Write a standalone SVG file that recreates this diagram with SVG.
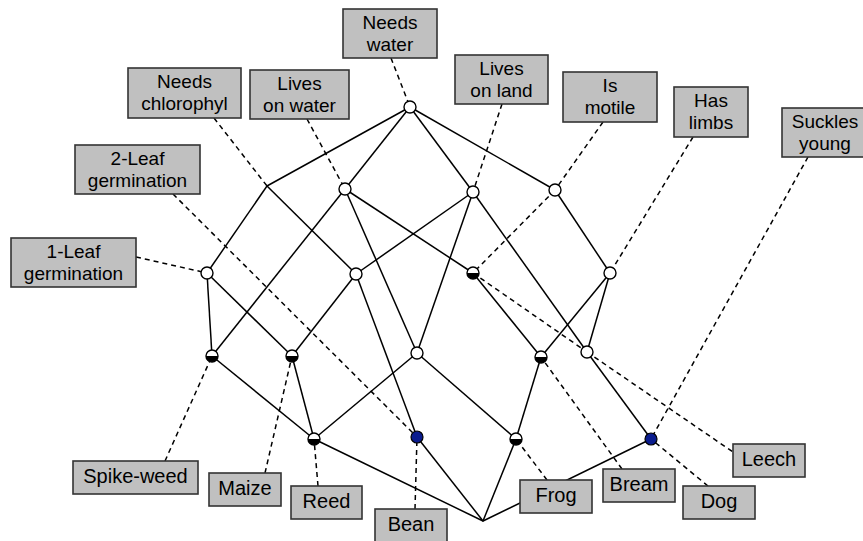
<svg xmlns="http://www.w3.org/2000/svg" xmlns:xlink="http://www.w3.org/1999/xlink" width="863" height="541" viewBox="0 0 863 541">
<style>
.e{stroke:#000;stroke-width:1.5;fill:none}
.d{stroke:#000;stroke-width:1.5;fill:none;stroke-dasharray:5 4}
.box rect{fill:#c0c0c0;stroke:#333;stroke-width:1.6}
.box text{font-family:"Liberation Sans",Arial,sans-serif;font-size:20px;fill:#000;text-anchor:middle}
.box text.two{font-size:19px}
.w{fill:#fff;stroke:#000;stroke-width:1.4}
.b{fill:#0a1c8e;stroke:#000;stroke-width:1.2}
</style>
<defs>
<g id="half"><circle r="6" class="w"/><path d="M-6,0 A6,6 0 0 0 6,0 Z" fill="#000"/></g>
<g id="white"><circle r="6" class="w"/></g>
<g id="blue"><circle r="6" class="b"/></g>
</defs>
<rect width="863" height="541" fill="#fff"/>
<g id="connectors">
<line class="e" x1="410" y1="107" x2="267" y2="186"/>
<line class="e" x1="410" y1="107" x2="345" y2="189"/>
<line class="e" x1="410" y1="107" x2="473" y2="192"/>
<line class="e" x1="410" y1="107" x2="555" y2="190"/>
<line class="e" x1="267" y1="186" x2="207" y2="273"/>
<line class="e" x1="267" y1="186" x2="356" y2="274"/>
<line class="e" x1="345" y1="189" x2="212" y2="356"/>
<line class="e" x1="345" y1="189" x2="473" y2="273"/>
<line class="e" x1="345" y1="189" x2="417" y2="353"/>
<line class="e" x1="473" y1="192" x2="356" y2="274"/>
<line class="e" x1="473" y1="192" x2="417" y2="353"/>
<line class="e" x1="473" y1="192" x2="587" y2="352"/>
<line class="e" x1="555" y1="190" x2="610" y2="273"/>
<line class="e" x1="207" y1="273" x2="212" y2="356"/>
<line class="e" x1="207" y1="273" x2="292" y2="356"/>
<line class="e" x1="356" y1="274" x2="292" y2="356"/>
<line class="e" x1="356" y1="274" x2="417" y2="437"/>
<line class="e" x1="473" y1="273" x2="541" y2="357"/>
<line class="e" x1="610" y1="273" x2="541" y2="357"/>
<line class="e" x1="610" y1="273" x2="587" y2="352"/>
<line class="e" x1="212" y1="356" x2="314" y2="439"/>
<line class="e" x1="292" y1="356" x2="314" y2="439"/>
<line class="e" x1="417" y1="353" x2="314" y2="439"/>
<line class="e" x1="417" y1="353" x2="516" y2="439"/>
<line class="e" x1="541" y1="357" x2="516" y2="439"/>
<line class="e" x1="587" y1="352" x2="651" y2="439"/>
<line class="e" x1="314" y1="439" x2="483" y2="521"/>
<line class="e" x1="417" y1="437" x2="483" y2="521"/>
<line class="e" x1="516" y1="439" x2="483" y2="521"/>
<line class="e" x1="651" y1="439" x2="483" y2="521"/>
<line class="d" x1="391" y1="58" x2="410" y2="107"/>
<line class="d" x1="214" y1="118" x2="267" y2="186"/>
<line class="d" x1="307" y1="119" x2="345" y2="189"/>
<line class="d" x1="502" y1="104" x2="473" y2="192"/>
<line class="d" x1="603" y1="122" x2="555" y2="190"/>
<line class="d" x1="555" y1="190" x2="473" y2="273"/>
<line class="d" x1="693" y1="137" x2="610" y2="273"/>
<line class="d" x1="808" y1="157" x2="651" y2="439"/>
<line class="d" x1="173" y1="194" x2="417" y2="437"/>
<line class="d" x1="136" y1="257" x2="207" y2="273"/>
<line class="d" x1="165" y1="461" x2="212" y2="356"/>
<line class="d" x1="265" y1="473" x2="292" y2="356"/>
<line class="d" x1="318" y1="486" x2="314" y2="439"/>
<line class="d" x1="415" y1="509" x2="417" y2="437"/>
<line class="d" x1="547" y1="480" x2="516" y2="439"/>
<line class="d" x1="622" y1="469" x2="541" y2="357"/>
<line class="d" x1="708" y1="486" x2="651" y2="439"/>
<line class="d" x1="473" y1="273" x2="587" y2="352"/>
<line class="d" x1="587" y1="352" x2="733" y2="452"/>
</g>
<g id="nodes">
<g id="n-top"><use xlink:href="#white" x="410" y="107"/></g>
<g id="n-chlorophyl"><circle cx="267" cy="186" r="1" fill="#000"/></g>
<g id="n-water"><use xlink:href="#white" x="345" y="189"/></g>
<g id="n-land"><use xlink:href="#white" x="473" y="192"/></g>
<g id="n-motile"><use xlink:href="#white" x="555" y="190"/></g>
<g id="n-1leaf"><use xlink:href="#white" x="207" y="273"/></g>
<g id="n-acd"><use xlink:href="#white" x="356" y="274"/></g>
<g id="n-leech"><use xlink:href="#half" x="473" y="273"/></g>
<g id="n-limbs"><use xlink:href="#white" x="610" y="273"/></g>
<g id="n-spikeweed"><use xlink:href="#half" x="212" y="356"/></g>
<g id="n-maize"><use xlink:href="#half" x="292" y="356"/></g>
<g id="n-abc"><use xlink:href="#white" x="417" y="353"/></g>
<g id="n-bream"><use xlink:href="#half" x="541" y="357"/></g>
<g id="n-acgh"><use xlink:href="#white" x="587" y="352"/></g>
<g id="n-reed"><use xlink:href="#half" x="314" y="439"/></g>
<g id="n-bean"><use xlink:href="#blue" x="417" y="437"/></g>
<g id="n-frog"><use xlink:href="#half" x="516" y="439"/></g>
<g id="n-dog"><use xlink:href="#blue" x="651" y="439"/></g>
<g id="n-bottom"><circle cx="483" cy="521" r="0.8" fill="#000"/></g>
</g>
<g id="labels">
<g id="l-needs-water" class="box"><rect x="343" y="9" width="94" height="49"/><text class="two" x="390" y="29">Needs</text><text class="two" x="390" y="50.5">water</text></g>
<g id="l-chlorophyl" class="box"><rect x="128" y="68" width="113" height="50"/><text class="two" x="184.5" y="88">Needs</text><text class="two" x="184.5" y="109.5">chlorophyl</text></g>
<g id="l-lives-water" class="box"><rect x="250" y="70" width="99" height="49"/><text class="two" x="299.5" y="90">Lives</text><text class="two" x="299.5" y="111.5">on water</text></g>
<g id="l-lives-land" class="box"><rect x="455" y="55" width="93" height="49"/><text class="two" x="501.5" y="75">Lives</text><text class="two" x="501.5" y="96.5">on land</text></g>
<g id="l-motile" class="box"><rect x="563" y="72" width="94" height="50"/><text class="two" x="610" y="92">Is</text><text class="two" x="610" y="113.5">motile</text></g>
<g id="l-limbs" class="box"><rect x="674" y="87" width="74" height="50"/><text class="two" x="711" y="107">Has</text><text class="two" x="711" y="128.5">limbs</text></g>
<g id="l-suckles" class="box"><rect x="782" y="108" width="88" height="49"/><text class="two" x="825" y="128">Suckles</text><text class="two" x="825" y="149.5">young</text></g>
<g id="l-2leaf" class="box"><rect x="75" y="145" width="125" height="49"/><text class="two" x="137.5" y="165">2-Leaf</text><text class="two" x="137.5" y="186.5">germination</text></g>
<g id="l-1leaf" class="box"><rect x="11" y="238" width="125" height="49"/><text class="two" x="73.5" y="258">1-Leaf</text><text class="two" x="73.5" y="279.5">germination</text></g>
<g id="l-spikeweed" class="box"><rect x="73" y="461" width="125" height="33"/><text x="135.5" y="483">Spike-weed</text></g>
<g id="l-maize" class="box"><rect x="209" y="473" width="72" height="33"/><text x="245" y="495">Maize</text></g>
<g id="l-reed" class="box"><rect x="291" y="486" width="71" height="33"/><text x="326.5" y="508">Reed</text></g>
<g id="l-bean" class="box"><rect x="375" y="509" width="72" height="34"/><text x="411" y="531">Bean</text></g>
<g id="l-frog" class="box"><rect x="520" y="480" width="72" height="33"/><text x="556" y="502">Frog</text></g>
<g id="l-bream" class="box"><rect x="603" y="469" width="72" height="33"/><text x="639" y="491">Bream</text></g>
<g id="l-dog" class="box"><rect x="683" y="486" width="72" height="33"/><text x="719" y="508">Dog</text></g>
<g id="l-leech" class="box"><rect x="733" y="444" width="72" height="33"/><text x="769" y="466">Leech</text></g>
</g>
</svg>
